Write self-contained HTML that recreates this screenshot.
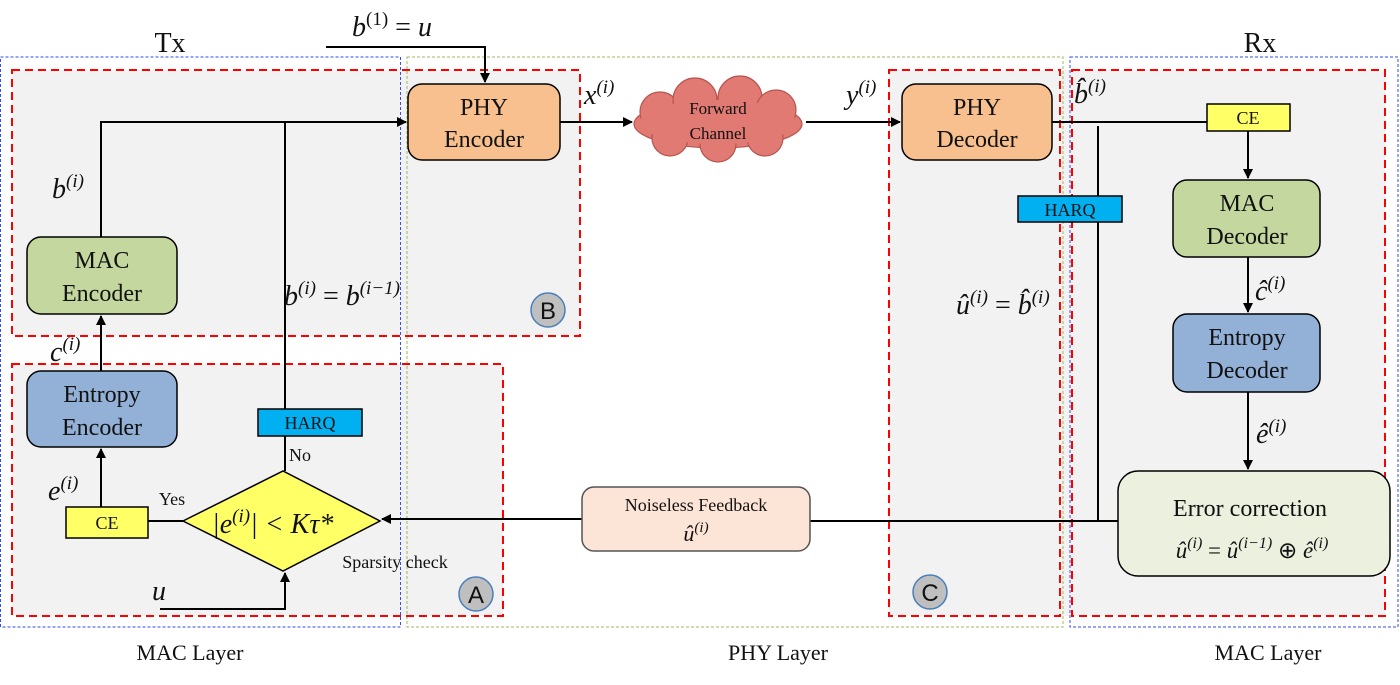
<!DOCTYPE html>
<html><head><meta charset="utf-8"><style>
body{margin:0;background:#fff;}
svg{display:block;}
text{font-family:"Liberation Serif",serif;fill:#111;}
.m{font-style:italic;font-family:"Liberation Serif",serif;}
</style></head><body>
<svg width="1400" height="685" viewBox="0 0 1400 685" xmlns="http://www.w3.org/2000/svg">
<defs><marker id="a" markerWidth="10" markerHeight="10" refX="9" refY="5" orient="auto" markerUnits="userSpaceOnUse"><path d="M0,0 L10,5 L0,10z" fill="#000"/></marker></defs>
<rect x="12" y="70" width="568" height="266" fill="#f2f2f2"/>
<rect x="12" y="364" width="491" height="252" fill="#f2f2f2"/>
<rect x="889" y="70" width="496" height="546" fill="#f2f2f2"/>
<rect x="0.5" y="57" width="400" height="570" fill="none" stroke="#2f4cf5" stroke-width="1" stroke-dasharray="3,2"/>
<rect x="407" y="57" width="656" height="570" fill="none" stroke="#9bbb59" stroke-width="1" stroke-dasharray="3,2"/>
<rect x="1070" y="57" width="328" height="570" fill="none" stroke="#2f4cf5" stroke-width="1" stroke-dasharray="3,2"/>
<g fill="none" stroke="#f00" stroke-width="2" stroke-dasharray="8,5">
<rect x="12" y="70" width="568" height="266"/>
<rect x="12" y="364" width="491" height="252"/>
<rect x="889" y="70" width="171" height="546"/>
<rect x="1072" y="70" width="313" height="546"/>
</g>
<text x="170" y="52" font-size="28" text-anchor="middle">Tx</text>
<text x="1260" y="52" font-size="28" text-anchor="middle">Rx</text>
<text x="190" y="660" font-size="22" text-anchor="middle">MAC Layer</text>
<text x="778" y="660" font-size="22" text-anchor="middle">PHY Layer</text>
<text x="1268" y="660" font-size="22" text-anchor="middle">MAC Layer</text>
<g stroke="#000" stroke-width="2" fill="none">
<path d="M326,47 H485 V82" marker-end="url(#a)"/>
<path d="M101,237 V122 H406" marker-end="url(#a)"/>
<path d="M285,122 V409 M285,436 V471"/>
<path d="M101,371 V316" marker-end="url(#a)"/>
<path d="M101,507 V449" marker-end="url(#a)"/>
<path d="M148,521 H183"/>
<path d="M160,609 H285 V573" marker-end="url(#a)"/>
<path d="M560,122 H632" marker-end="url(#a)"/>
<path d="M806,122 H900" marker-end="url(#a)"/>
<path d="M1052,122 H1207"/>
<path d="M1098,126 V521"/>
<path d="M1248,131 V178" marker-end="url(#a)"/>
<path d="M1248,257 V312" marker-end="url(#a)"/>
<path d="M1248,392 V469" marker-end="url(#a)"/>
<path d="M1118,521 H810"/>
<path d="M582,519 H382" marker-end="url(#a)"/>
</g>
<g stroke="#000" stroke-width="1.5">
<rect x="408" y="84" width="152" height="76" rx="14" fill="#f8c08f"/>
<rect x="902" y="84" width="150" height="76" rx="14" fill="#f8c08f"/>
<rect x="27" y="237" width="150" height="77" rx="14" fill="#c4d79f"/>
<rect x="27" y="371" width="150" height="76" rx="14" fill="#93b1d7"/>
<rect x="1173" y="180" width="147" height="77" rx="14" fill="#c4d79f"/>
<rect x="1173" y="314" width="147" height="78" rx="14" fill="#93b1d7"/>
<rect x="1118" y="471" width="272" height="105" rx="20" fill="#ebf0df"/>
<rect x="582" y="487" width="228" height="64" rx="12" fill="#fce4d6" stroke="#555"/>
<rect x="1207" y="104" width="83" height="27" fill="#ffff66"/>
<rect x="66" y="507" width="82" height="31" fill="#ffff66"/>
<rect x="258" y="409" width="104" height="27" fill="#00b0f0"/>
<rect x="1018" y="196" width="104" height="26" fill="#00b0f0"/>
<path d="M183,521 L283,471 L380,521 L283,571 Z" fill="#ffff66"/>
</g>
<g fill="#e07a72" stroke="#b85450" stroke-width="1.2">
<ellipse cx="718" cy="124" rx="84" ry="24"/>
<circle cx="660" cy="112" r="20"/><circle cx="695" cy="100" r="22"/><circle cx="740" cy="98" r="22"/><circle cx="776" cy="110" r="20"/>
<circle cx="670" cy="138" r="18"/><circle cx="718" cy="144" r="18"/><circle cx="765" cy="138" r="18"/>
</g>
<ellipse cx="718" cy="122" rx="78" ry="22" fill="#e07a72"/>
<text x="718" y="114" font-size="17" text-anchor="middle">Forward</text>
<text x="718" y="139" font-size="17" text-anchor="middle">Channel</text>
<g fill="#bfbfbf" stroke="#4a7ebb" stroke-width="1.5">
<circle cx="548" cy="310" r="17"/><circle cx="476" cy="594" r="17"/><circle cx="930" cy="592" r="17"/>
</g>
<g font-size="24" text-anchor="middle">
<text x="548" y="319" style="font-family:'Liberation Sans',sans-serif">B</text>
<text x="476" y="603" style="font-family:'Liberation Sans',sans-serif">A</text>
<text x="930" y="601" style="font-family:'Liberation Sans',sans-serif">C</text>
</g>
<g font-size="24" text-anchor="middle">
<text x="484" y="115">PHY</text><text x="484" y="147">Encoder</text>
<text x="977" y="115">PHY</text><text x="977" y="147">Decoder</text>
<text x="102" y="268">MAC</text><text x="102" y="301">Encoder</text>
<text x="102" y="402">Entropy</text><text x="102" y="435">Encoder</text>
<text x="1247" y="211">MAC</text><text x="1247" y="244">Decoder</text>
<text x="1247" y="345">Entropy</text><text x="1247" y="378">Decoder</text>
<text x="1250" y="516">Error correction</text>
</g>
<g font-size="18" text-anchor="middle">
<text x="1248" y="124">CE</text><text x="107" y="529">CE</text>
<text x="310" y="429">HARQ</text><text x="1070" y="216">HARQ</text>
<text x="696" y="511">Noiseless Feedback</text>
<text x="300" y="461">No</text>
<text x="172" y="505">Yes</text>
<text x="395" y="568">Sparsity check</text>
</g>
<g class="m" font-size="28">
<text x="352" y="36">b<tspan font-size="19" dy="-11" font-style="normal">(1)</tspan><tspan dy="11" font-style="normal"> = </tspan>u</text>
<text x="52" y="198">b<tspan font-size="19" dy="-11">(i)</tspan></text>
<text x="50" y="361">c<tspan font-size="19" dy="-11">(i)</tspan></text>
<text x="48" y="500">e<tspan font-size="19" dy="-11">(i)</tspan></text>
<text x="284" y="305">b<tspan font-size="19" dy="-11">(i)</tspan><tspan dy="11" font-style="normal"> = </tspan>b<tspan font-size="19" dy="-11">(i−1)</tspan></text>
<text x="212" y="533">|e<tspan font-size="19" dy="-11">(i)</tspan><tspan dy="11">| &lt; Kτ*</tspan></text>
<text x="152" y="600">u</text>
<text x="584" y="104">x<tspan font-size="19" dy="-11">(i)</tspan></text>
<text x="846" y="104">y<tspan font-size="19" dy="-11">(i)</tspan></text>
<text x="1074" y="103">b̂<tspan font-size="19" dy="-11">(i)</tspan></text>
<text x="956" y="314">û<tspan font-size="19" dy="-11">(i)</tspan><tspan dy="11" font-style="normal"> = </tspan>b̂<tspan font-size="19" dy="-11">(i)</tspan></text>
<text x="1255" y="300">ĉ<tspan font-size="19" dy="-11">(i)</tspan></text>
<text x="1256" y="443">ê<tspan font-size="19" dy="-11">(i)</tspan></text>
<text x="1252" y="558" text-anchor="middle" font-size="23">û<tspan font-size="16" dy="-10">(i)</tspan><tspan dy="10" font-style="normal"> = </tspan>û<tspan font-size="16" dy="-10">(i−1)</tspan><tspan dy="10" font-style="normal"> ⊕ </tspan>ê<tspan font-size="16" dy="-10">(i)</tspan></text>
<text x="696" y="541" text-anchor="middle" font-size="22">û<tspan font-size="15" dy="-9">(i)</tspan></text>
</g>
</svg>
</body></html>
